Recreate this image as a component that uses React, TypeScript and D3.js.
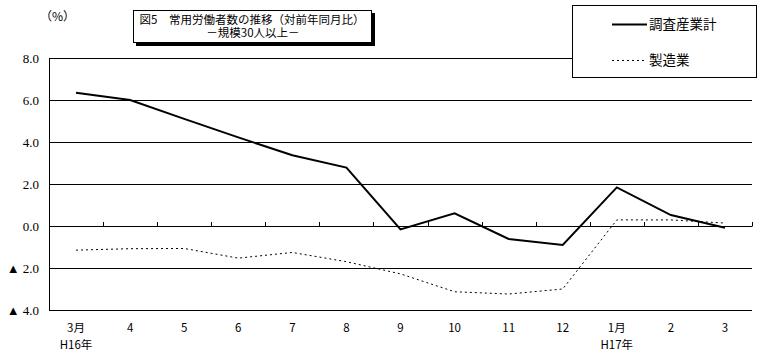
import React from "react";
import * as d3 from "d3";

const categories = ["3月", "4", "5", "6", "7", "8", "9", "10", "11", "12", "1月", "2", "3"];
const subLabels = ["H16年", "", "", "", "", "", "", "", "", "", "H17年", "", ""];
const totalSeries = [6.35, 6.0, 5.1, 4.22, 3.37, 2.78, -0.16, 0.6, -0.62, -0.9, 1.84, 0.52, -0.08];
const mfgSeries = [-1.15, -1.08, -1.07, -1.53, -1.26, -1.7, -2.28, -3.13, -3.24, -3.0, 0.29, 0.29, 0.14];
const yTicks = [8, 6, 4, 2, 0, -2, -4];
const yTickLabels = ["8.0", "6.0", "4.0", "2.0", "0.0", "▲ 2.0", "▲ 4.0"];
const legendNames = ["調査産業計", "製造業"];
const titleLine1 = "図5　常用労働者数の推移（対前年同月比）";
const titleLine2 = "－規模30人以上－";

const W = 775;
const H = 360;
const L = 49;
const R = 752;
const T = 58;
const B = 310;

export default function App() {
  const x = d3.scaleBand<string>().domain(categories).range([L, R]).padding(0);
  const y = d3.scaleLinear().domain([-4, 8]).range([B, T]);
  const cx = (i: number) => (x(categories[i]) as number) + x.bandwidth() / 2;
  const line = d3
    .line<number>()
    .x((_, i) => cx(i))
    .y((d) => y(d));

  const jp = "'Noto Sans CJK JP', sans-serif";
  const serif = "'Liberation Serif', 'DejaVu Serif', serif";

  return (
    <svg width={W} height={H} style={{ position: "absolute", left: 0, top: 0, background: "#fff" }}>
      <rect x={0} y={0} width={W} height={H} fill="#fff" />
      {yTicks.map((t) => (
        <line key={t} x1={L} x2={R} y1={Math.round(y(t)) + 0.5} y2={Math.round(y(t)) + 0.5} stroke="#000" strokeWidth={1} />
      ))}
      <line x1={L + 0.5} x2={L + 0.5} y1={T} y2={B + 1} stroke="#000" strokeWidth={1} />
      {categories.map((c, i) => {
        const xx = Math.round((x(c) as number) + x.bandwidth()) + 0.5;
        return <line key={"t" + i} x1={xx} x2={xx} y1={y(0) - 4} y2={y(0) + 0.5} stroke="#000" strokeWidth={1} />;
      })}
      {yTicks.map((t, i) => (
        <text key={"yl" + t} x={39} y={y(t) + 4.5} textAnchor="end" fontFamily={serif} fontSize={13} fill="#000">
          {yTickLabels[i]}
        </text>
      ))}
      <text x={40} y={21} fontFamily={jp} fontSize={12} fill="#000">（%）</text>
      {categories.map((c, i) => (
        <g key={"xl" + i}>
          <text x={cx(i)} y={332} textAnchor="middle" fontFamily={jp} fontSize={11.5} fill="#000">
            {c}
          </text>
          {subLabels[i] && (
            <text x={cx(i)} y={349} textAnchor="middle" fontFamily={jp} fontSize={11.5} fill="#000">
              {subLabels[i]}
            </text>
          )}
        </g>
      ))}
      <path d={line(mfgSeries) || ""} fill="none" stroke="#000" strokeWidth={1} strokeDasharray="2,3" />
      <path d={line(totalSeries) || ""} fill="none" stroke="#000" strokeWidth={2} />
      <rect x={136} y={13} width={239} height={33} fill="#000" />
      <rect x={133.5} y={10.5} width={238} height={32} fill="#fff" stroke="#000" strokeWidth={1} />
      <text x={252} y={24} textAnchor="middle" fontFamily={jp} fontSize={11.5} fill="#000">
        {titleLine1}
      </text>
      <text x={253} y={37} textAnchor="middle" fontFamily={jp} fontSize={11.5} fill="#000">
        {titleLine2}
      </text>
      <rect x={572.5} y={5.5} width={184} height={72} fill="#fff" stroke="#000" strokeWidth={1} />
      <line x1={612} x2={647} y1={24.5} y2={24.5} stroke="#000" strokeWidth={2} />
      <text x={649} y={29} fontFamily={jp} fontSize={13.5} fill="#000">{legendNames[0]}</text>
      <line x1={612} x2={647} y1={60.5} y2={60.5} stroke="#000" strokeWidth={1} strokeDasharray="2,3" />
      <text x={649} y={65} fontFamily={jp} fontSize={13.5} fill="#000">{legendNames[1]}</text>
    </svg>
  );
}
